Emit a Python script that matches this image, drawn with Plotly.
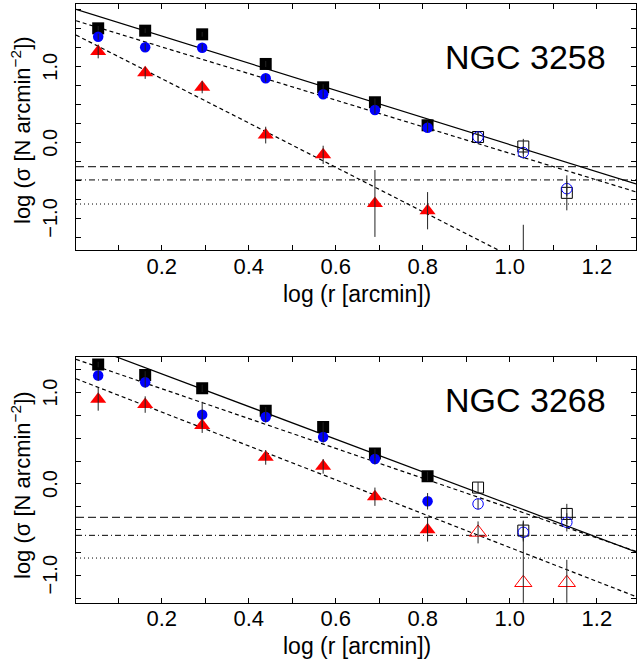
import plotly.graph_objects as go

# ---------------- data ----------------
logr = [0.054, 0.162, 0.293, 0.439, 0.571, 0.690, 0.811, 0.927, 1.031, 1.131]
n_filled = 7  # inner points drawn filled, outer ones open

# NGC 3258
sq_3258 = [1.505, 1.474, 1.426, 1.036, 0.729, 0.532, 0.229, 0.075, -0.05, -0.66]
sq_err_3258 = [0.03, 0.03, 0.03, 0.04, 0.04, 0.05, 0.05, 0.07, 0.10, 0.23]
ci_3258 = [1.395, 1.255, 1.25, 0.847, 0.637, 0.43, 0.197, 0.075, -0.13, -0.605]
ci_err_3258 = [0.04, 0.05, 0.05, 0.05, 0.05, 0.05, 0.06, 0.07, 0.08, 0.10]
tr_3258 = [1.20, 0.92, 0.73, 0.10, -0.16, -0.80, -0.895, None, -1.60, None]
tr_err_3258 = [0.09, 0.08, 0.08, 0.11, 0.12, 0.44, 0.245, None, 0.52, None]
bg_3258 = [-0.316, -0.49, -0.807]          # dashed, dash-dot, dotted
fit_3258 = [(1.760, -1.785), (1.610, -1.75), (1.426, -2.916)]  # (intercept, slope): all, blue, red

# NGC 3268
sq_3268 = [1.304, 1.191, 1.045, 0.80, 0.623, 0.331, 0.083, -0.04, -0.51, -0.328]
sq_err_3268 = [0.03, 0.04, 0.04, 0.04, 0.05, 0.05, 0.05, 0.06, 0.10, 0.11]
ci_3268 = [1.184, 1.11, 0.757, 0.732, 0.513, 0.273, -0.19, -0.219, -0.529, -0.42]
ci_err_3268 = [0.06, 0.06, 0.14, 0.06, 0.06, 0.06, 0.09, 0.06, 0.10, 0.10]
tr_3268 = [0.925, 0.867, 0.637, 0.29, 0.192, -0.14, -0.50, -0.53, -1.08, -1.08]
tr_err_3268 = [0.125, 0.09, 0.08, 0.08, 0.08, 0.10, 0.13, 0.12, 0.68, 0.25]
bg_3268 = [-0.365, -0.562, -0.81]
fit_3268 = [(1.559, -1.784), (1.366, -1.63), (1.155, -1.85)]

x_range = [0.003, 1.290]
y_range_3258 = [-1.412, 1.825]
y_range_3268 = [-1.298, 1.39]
x_tickvals = [0.2, 0.4, 0.6, 0.8, 1.0, 1.2]
x_ticktext = ["0.2", "0.4", "0.6", "0.8", "1.0", "1.2"]
y_tickvals = [-1.0, 0.0, 1.0]
y_ticktext = ["\u22121.0", "0.0", "1.0"]
titles = ["NGC 3258", "NGC 3268"]

FONT = "Liberation Sans, Arial, Helvetica, sans-serif"
BLUE = "#0000ff"
RED = "#ff0000"

fig = go.Figure()


def add_panel(xa, ya, sq, sq_err, ci, ci_err, tr, tr_err, fits):
    xs = x_range
    styles = [dict(color="black", width=1.2, dash="solid"),
              dict(color="black", width=1.2, dash="4px,3px"),
              dict(color="black", width=1.2, dash="4px,3px")]
    for (a, b), st in zip(fits, styles):
        fig.add_trace(go.Scatter(x=xs, y=[a + b * v for v in xs], mode="lines",
                                 line=st, xaxis=xa, yaxis=ya, showlegend=False,
                                 hoverinfo="skip"))

    def pts(vals, lo, hi):
        xx, yy = [], []
        for i in range(lo, hi):
            if vals[i] is not None:
                xx.append(logr[i]); yy.append(vals[i])
        return xx, yy

    n = len(logr)
    series = [(sq, "square", "black", 12, 11),
              (ci, "circle", BLUE, 10.5, 10.5),
              (tr, "triangle-up", RED, 14, 15)]
    for vals, sym, col, sf, so in series:
        xx, yy = pts(vals, 0, n_filled)
        fig.add_trace(go.Scatter(x=xx, y=yy, mode="markers", xaxis=xa, yaxis=ya,
                                 marker=dict(symbol=sym, size=sf, color=col, line=dict(width=0)),
                                 showlegend=False))
        xx, yy = pts(vals, n_filled, n)
        fig.add_trace(go.Scatter(x=xx, y=yy, mode="markers", xaxis=xa, yaxis=ya,
                                 marker=dict(symbol=sym + "-open", size=so, color=col,
                                             line=dict(width=1, color=col)),
                                 showlegend=False))
    for vals, errs in [(sq, sq_err), (ci, ci_err), (tr, tr_err)]:
        xx, yy, ee = [], [], []
        for i in range(n):
            if vals[i] is not None:
                xx.append(logr[i]); yy.append(vals[i]); ee.append(errs[i])
        fig.add_trace(go.Scatter(x=xx, y=yy, mode="markers", xaxis=xa, yaxis=ya,
                                 marker=dict(size=1, color="rgba(0,0,0,0)"),
                                 error_y=dict(type="data", array=ee, visible=True,
                                              color="#222222", thickness=1, width=0),
                                 showlegend=False, hoverinfo="skip"))


add_panel("x", "y", sq_3258, sq_err_3258, ci_3258, ci_err_3258, tr_3258, tr_err_3258, fit_3258)
add_panel("x2", "y2", sq_3268, sq_err_3268, ci_3268, ci_err_3268, tr_3268, tr_err_3268, fit_3268)

shapes = []
bg_styles = [dict(color="black", width=1, dash="8px,4px"),
             dict(color="black", width=1, dash="6px,3px,1px,3px"),
             dict(color="black", width=1, dash="1px,3px")]
for xa, ya, bgs in [("x", "y", bg_3258), ("x2", "y2", bg_3268)]:
    for v, st in zip(bgs, bg_styles):
        shapes.append(dict(type="line", xref=xa + " domain", x0=0, x1=1, yref=ya, y0=v, y1=v,
                           line=st, layer="below"))

common_x = dict(range=x_range, tickmode="array", tickvals=x_tickvals, ticktext=x_ticktext,
                ticks="inside", ticklen=5, tickwidth=1, tickcolor="black",
                minor=dict(tickmode="linear", tick0=0, dtick=0.1, ticks="inside", ticklen=5,
                           tickwidth=1, tickcolor="black"),
                showline=True, linecolor="black", linewidth=1.3, mirror="ticks",
                showgrid=False, zeroline=False, automargin=False,
                tickfont=dict(family=FONT, size=22, color="black"), ticklabelstandoff=-4)
common_y = dict(tickmode="array", tickvals=y_tickvals, showticklabels=False,
                ticks="inside", ticklen=5, tickwidth=1, tickcolor="black",
                minor=dict(tickmode="linear", tick0=0, dtick=0.25, ticks="inside", ticklen=5,
                           tickwidth=1, tickcolor="black"),
                showline=True, linecolor="black", linewidth=1.3, mirror="ticks",
                showgrid=False, zeroline=False, automargin=False)

W, H = 637, 664
L, R = 76, 1
dom_top = [(H - 250) / H, (H - 4) / H]
dom_bot = [(H - 602.7) / H, (H - 356.7) / H]

fig.update_layout(
    width=W, height=H, margin=dict(l=L, r=R, t=0, b=0, autoexpand=False),
    paper_bgcolor="white", plot_bgcolor="white",
    xaxis=dict(domain=[0, 1], anchor="y", **common_x),
    yaxis=dict(domain=dom_top, anchor="x", range=y_range_3258, **common_y),
    xaxis2=dict(domain=[0, 1], anchor="y2", **common_x),
    yaxis2=dict(domain=dom_bot, anchor="x2", range=y_range_3268, **common_y),
    shapes=shapes,
    showlegend=False,
)


def px_x(p):
    return (p - L) / (W - L - R)


def px_y(p):
    return (H - p) / H


annots = []
ytitle = "log (\u03c3 [N arcmin<sup>\u22122</sup>])"
xtitle = "log (r [arcmin])"
for yc_title, yc_x, yc_name, name in [(130, 294, 57, titles[0]), (485, 646, 400, titles[1])]:
    annots.append(dict(text=ytitle, xref="paper", yref="paper", x=px_x(21), y=px_y(yc_title),
                       textangle=-90, showarrow=False, xanchor="center", yanchor="middle",
                       font=dict(family=FONT, size=22, color="black")))
    annots.append(dict(text=xtitle, xref="paper", yref="paper", x=px_x(357), y=px_y(yc_x),
                       showarrow=False, xanchor="center", yanchor="middle",
                       font=dict(family=FONT, size=23, color="black")))
    annots.append(dict(text=name, xref="paper", yref="paper", x=px_x(525), y=px_y(yc_name),
                       showarrow=False, xanchor="center", yanchor="middle",
                       font=dict(family=FONT, size=34, color="black")))
# rotated y tick labels
for ya in ["y", "y2"]:
    for v, t in zip(y_tickvals, y_ticktext):
        annots.append(dict(text=t, xref="paper", yref=ya, x=px_x(50), y=v,
                           textangle=-90, showarrow=False, xanchor="center", yanchor="middle",
                           font=dict(family=FONT, size=20, color="black")))
fig.update_layout(annotations=annots)

fig.write_html("out.html", config={"displayModeBar": False},
               post_script="document.body.style.margin='0px';")
